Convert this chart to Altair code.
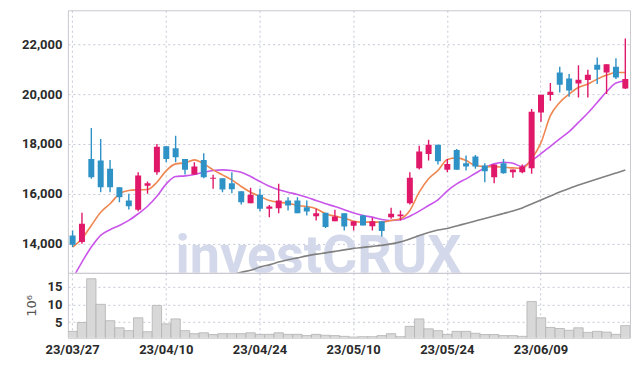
import altair as alt
import pandas as pd

dates = ["23/03/27","23/03/28","23/03/29","23/03/30","23/03/31","23/04/03","23/04/04","23/04/05","23/04/06","23/04/07",
         "23/04/10","23/04/11","23/04/12","23/04/13","23/04/14","23/04/17","23/04/18","23/04/19","23/04/20","23/04/21",
         "23/04/24","23/04/25","23/04/26","23/04/27","23/04/28","23/05/02","23/05/03","23/05/04","23/05/08","23/05/09",
         "23/05/10","23/05/11","23/05/12","23/05/15","23/05/16","23/05/17","23/05/18","23/05/19","23/05/22","23/05/23",
         "23/05/24","23/05/25","23/05/26","23/05/30","23/05/31","23/06/01","23/06/02","23/06/05","23/06/07","23/06/08",
         "23/06/09","23/06/12","23/06/13","23/06/14","23/06/15","23/06/16","23/06/19","23/06/20","23/06/21","23/06/22"]

open_ = [14332,14064,17400,17332,17000,16264,15732,15360,16320,16864,
         17904,17824,17400,16772,17360,16600,16624,16424,16104,15624,
         15960,15400,15424,15732,15732,15464,15104,15240,14904,15224,
         14720,15132,14704,14904,15064,15104,15624,17024,17600,17972,
         16960,17760,17224,17492,17132,16664,17224,16864,16864,17024,
         19264,19960,20864,20624,20424,20560,21172,20864,21092,20224]
close = [13960,14800,16664,16264,16264,15864,15504,16732,16424,17892,
         17400,17464,16960,17092,16664,16640,16172,16184,15664,15960,
         15400,15490,15732,15532,15224,15292,15224,14664,15092,14692,
         14904,14732,14904,14504,15200,15172,16640,17692,17972,17304,
         17200,16960,17092,17092,16904,17172,16824,16972,17092,19292,
         19972,20092,20372,20144,20572,20772,20972,21200,20664,20600]
high = [14532,15240,18640,18200,17360,16264,16000,16864,16492,18000,
        17920,18332,17400,17264,17624,16760,16624,16864,16104,16240,
        16200,15550,16400,15864,15864,15732,15400,15240,15360,15224,
        14904,15160,15040,14904,15440,15332,16864,17932,18172,17972,
        17400,17800,17532,17560,17224,17172,17400,16972,17172,19400,
        19972,20440,21092,20800,21160,20972,21464,21200,21440,22224]
low = [13864,14000,16600,16064,16064,15664,15372,15304,16000,16760,
       17264,17264,16772,16772,16624,16200,16064,16024,15572,15624,
       15300,15064,15224,15332,15224,15132,14932,14624,14904,14532,
       14532,14732,14532,14292,15000,14932,15572,16972,17332,17172,
       16864,16960,16932,17000,16464,16424,16800,16640,16824,16800,
       18892,19732,20064,19892,19864,19864,20400,20000,20600,20200]

ma_short = [13864,14200,14732,15264,15600,16000,16132,16160,16172,16464,
            16932,17200,17240,17360,17200,16960,16760,16560,16292,16064,
            15900,15732,15664,15624,15532,15492,15400,15200,15104,15024,
            14900,14864,14864,14864,14932,15000,15332,16064,16600,16932,
            17380,17440,17332,17132,17092,17092,17064,17040,17024,17400,
            18050,19132,19664,20000,20264,20400,20600,20760,20864,20864]
ma_mid = [12600,13264,13864,14332,14560,14732,14932,15200,15500,15900,
          16400,16692,16720,16772,16864,16932,16960,16932,16864,16692,
          16492,16300,16160,16064,15972,15864,15732,15600,15492,15360,
          15230,15132,15064,14972,14932,14960,15104,15304,15532,15760,
          16120,16400,16600,16824,17040,17200,17264,17224,17092,17332,
          17610,17904,18200,18492,18864,19240,19664,20092,20440,20532]
ma_long = [None]*17 + [12740,12852,12932,
           13064,13150,13264,13352,13432,13512,13580,13632,13692,13752,
           13812,13852,13892,13932,13992,14072,14192,14332,14452,14552,
           14612,14712,14812,14912,15012,15112,15212,15312,15432,15592,
           15752,15912,16072,16212,16352,16472,16592,16712,16832,16952]

volume = [2.4,4.9,17.2,10.0,5.4,3.4,2.6,6.2,2.3,9.7,
          4.5,5.9,2.6,1.75,2.0,1.5,1.75,1.75,1.75,2.0,
          1.55,1.55,2.0,1.55,1.55,1.2,1.55,1.3,1.2,1.0,
          0.8,0.9,0.9,1.2,1.75,0.9,3.8,5.9,3.1,2.6,
          1.55,2.4,2.4,1.85,1.5,1.5,1.2,1.2,1.0,10.8,
          6.2,3.5,3.2,2.7,3.4,2.1,2.4,2.2,1.55,4.0]

label_dates = ["23/03/27", "23/04/10", "23/04/24", "23/05/10", "23/05/24", "23/06/09"]
price_ticks = [14000, 16000, 18000, 20000, 22000]
vol_ticks = [5, 10, 15]

df = pd.DataFrame({"date": dates, "open": open_, "close": close, "high": high, "low": low,
                   "ma_short": ma_short, "ma_mid": ma_mid, "ma_long": ma_long, "volume": volume})
df["dir"] = ["up" if c >= o else "down" for o, c in zip(open_, close)]

RED = "#e0186a"
BLUE = "#2f92c6"
GRID = "#c4c7d6"
LABEL_FONT = "Roboto"
W = 563
H_MAIN = 263
H_VOL = 65

xscale = alt.Scale(domain=dates, paddingInner=0, paddingOuter=0)

x_main = alt.X("date:N", sort=dates, scale=xscale,
               axis=alt.Axis(values=label_dates, labels=False, ticks=False, domain=False, grid=True,
                             bandPosition=0.5, gridDash=[2, 3], gridColor=GRID, title=None,
                             minExtent=0, maxExtent=0, labelPadding=0, offset=0))
y_price = alt.Scale(domain=[12830, 23360], nice=False, zero=False)
y_axis = alt.Axis(values=price_ticks, format=",d", grid=True, gridDash=[2, 3], gridColor=GRID,
                  ticks=False, domain=False, title=None, labelPadding=6, minExtent=0)
color = alt.Color("dir:N", scale=alt.Scale(domain=["up", "down"], range=[RED, BLUE]), legend=None)

base = alt.Chart(df)

watermark = alt.Chart(pd.DataFrame({"t": ["investCRUX"]})).mark_text(
    font="Roboto", fontWeight="bold", fontSize=54, color="#d3d9ea", align="center",
    baseline="alphabetic", clip=True
).encode(x=alt.value(251), y=alt.value(263), text="t:N")

line_long = base.mark_line(color="#808080", strokeWidth=1.6, clip=True, interpolate="monotone").encode(
    x=x_main, y=alt.Y("ma_long:Q", scale=y_price, axis=y_axis))
line_mid = base.mark_line(color="#c955ea", strokeWidth=1.6, clip=True, interpolate="monotone").encode(
    x=x_main, y=alt.Y("ma_mid:Q", scale=y_price, axis=y_axis))
line_short = base.mark_line(color="#ef8650", strokeWidth=1.6, clip=True, interpolate="monotone").encode(
    x=x_main, y=alt.Y("ma_short:Q", scale=y_price, axis=y_axis))
wicks = base.mark_rule(strokeWidth=1.4, clip=True).encode(
    x=x_main, y=alt.Y("low:Q", scale=y_price, axis=y_axis), y2="high:Q", color=color)
bodies = base.mark_bar(size=6, clip=True).encode(
    x=x_main, y=alt.Y("open:Q", scale=y_price, axis=y_axis), y2="close:Q", color=color)

main = alt.layer(watermark, line_long, line_mid, line_short, wicks, bodies).properties(width=W, height=H_MAIN)

x_vol = alt.X("date:N", sort=dates, scale=xscale,
              axis=alt.Axis(values=label_dates, labelAngle=0, ticks=False, domain=False, grid=True,
                            bandPosition=0.5, gridDash=[2, 3], gridColor=GRID, title=None,
                            labelFlush=False, labelPadding=6))
vol = base.mark_bar(fill="#d8d8d8", stroke="#b3b3b3", strokeWidth=0.8, clip=True).encode(
    x=x_vol,
    y=alt.Y("volume:Q", scale=alt.Scale(domain=[0.6, 18.85], nice=False, zero=False),
            axis=alt.Axis(values=vol_ticks, grid=True, gridDash=[2, 3], gridColor=GRID, ticks=False,
                          domain=False, title="10⁶", titleFontWeight="normal", titleFontSize=13,
                          titleColor="#555", titleFont="DejaVu Sans", titlePadding=9, labelPadding=6,
                          minExtent=0)),
    y2=alt.datum(0),
).properties(width=W, height=H_VOL)

chart = alt.vconcat(main, vol, spacing=0, bounds="flush").properties(
    padding={"left": 13, "top": 1, "right": 0, "bottom": 0}
).configure_view(stroke="#c9c9cf", strokeWidth=1).configure_axis(
    labelFont=LABEL_FONT, labelFontSize=13, labelFontWeight="bold", labelColor="#2a2a2a"
)

chart.save("out.html", embed_options={"renderer": "svg", "actions": False})
